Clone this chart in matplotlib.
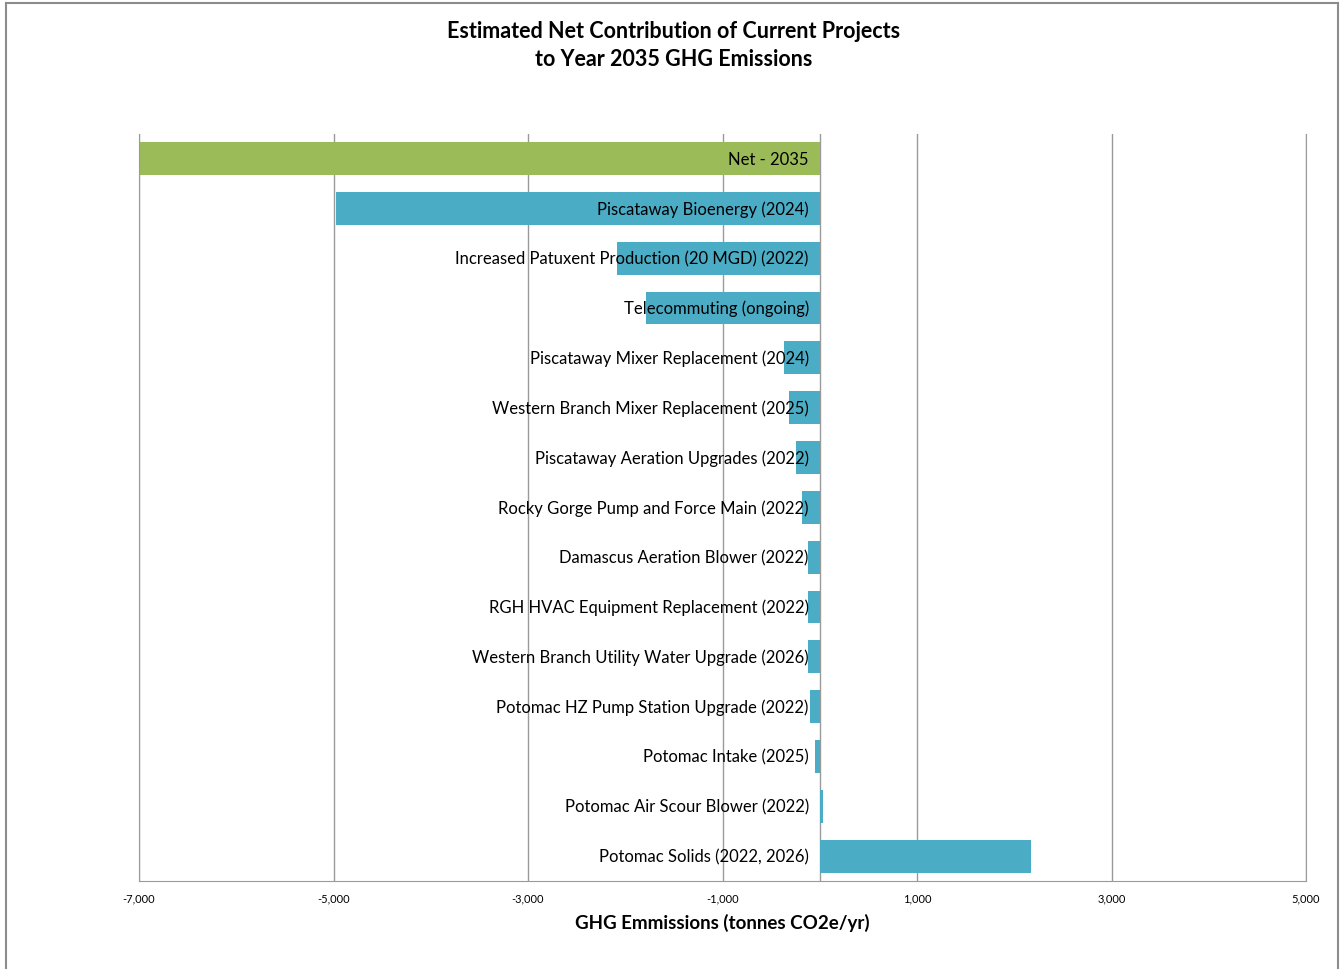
import matplotlib
matplotlib.use("Agg")
import matplotlib.pyplot as plt
import matplotlib.transforms as mtransforms
from matplotlib.lines import Line2D

# Dane projektów (od góry do dołu)
projekty = [
    "Net - 2035",
    "Piscataway Bioenergy (2024)",
    "Increased Patuxent Production (20 MGD) (2022)",
    "Telecommuting (ongoing)",
    "Piscataway Mixer Replacement (2024)",
    "Western Branch Mixer Replacement (2025)",
    "Piscataway Aeration Upgrades (2022)",
    "Rocky Gorge Pump and Force Main (2022)",
    "Damascus Aeration Blower (2022)",
    "RGH HVAC Equipment Replacement (2022)",
    "Western Branch Utility Water Upgrade (2026)",
    "Potomac HZ Pump Station Upgrade (2022)",
    "Potomac Intake (2025)",
    "Potomac Air Scour Blower (2022)",
    "Potomac Solids (2022, 2026)",
]
emisje = [-8290, -4970, -2090, -1790, -370, -320, -240, -185,
          -125, -125, -120, -100, -50, 30, 2170]
x_ticks = [-7000, -5000, -3000, -1000, 1000, 3000, 5000]

plt.rcParams['font.family'] = ['Lato', 'DejaVu Sans']

fig = plt.figure(figsize=(13.41, 9.70), dpi=100)
ax = fig.add_axes([0.1037, 0.0907, 0.8702, 0.7705])

y = list(range(len(projekty)))
kolory = ['#9BBB59'] + ['#4BACC6'] * (len(projekty) - 1)
ax.barh(y, emisje, height=0.66, color=kolory, edgecolor='none', zorder=2)

ax.set_xlim(-7000, 5000)
ax.set_ylim(len(projekty) - 0.5, -0.5)

# Siatka pionowa
ax.set_xticks(x_ticks)
ax.set_xticklabels([f"{v:,}" for v in x_ticks], fontsize=8)
ax.grid(axis='x', color='#9A9A9A', linewidth=1, zorder=1)
ax.tick_params(axis='x', length=0, pad=8)
ax.set_yticks([])
ax.axvline(0, color='#9A9A9A', linewidth=1, zorder=1)

ax.spines['top'].set_visible(False)
for side in ['left', 'right', 'bottom']:
    ax.spines[side].set_color('#9A9A9A')

# Etykiety przy osi zero
off = mtransforms.offset_copy(ax.transData, fig=fig, x=-11, y=0, units='dots')
for i, nazwa in enumerate(projekty):
    ax.text(0, i, nazwa, transform=off, ha='right', va='center',
            fontsize=12, color='black', zorder=3)

ax.set_xlabel('GHG Emmissions (tonnes CO2e/yr)', fontsize=13.5,
              fontweight='bold', labelpad=7)
fig.text(0.5025, 0.953, 'Estimated Net Contribution of Current Projects\nto Year 2035 GHG Emissions',
         ha='center', va='center', fontsize=15.5, fontweight='bold', linespacing=1.4)

# Ramka wykresu
rama = dict(color='#8C8C8C', linewidth=1.5, transform=fig.transFigure)
fig.add_artist(Line2D([0.0045, 0.0045], [0.0, 0.996], **rama))
fig.add_artist(Line2D([0.0045, 0.998], [0.996, 0.996], **rama))
fig.add_artist(Line2D([0.998, 0.998], [0.0, 0.996], **rama))

fig.savefig('out.png', dpi=100, facecolor='white')
